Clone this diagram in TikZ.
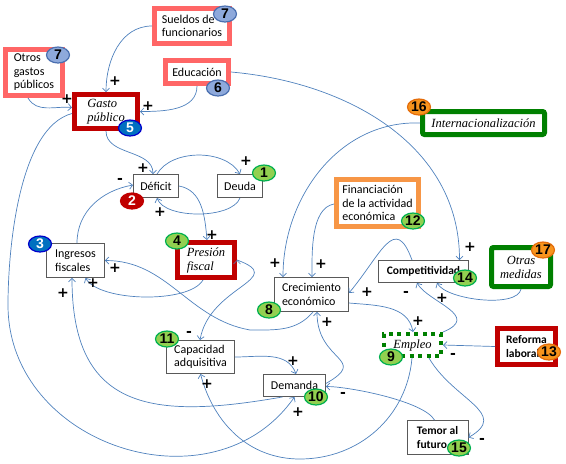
\documentclass[tikz,border=0pt]{standalone}
\usepackage{fontspec}
\setmainfont{Carlito}
\newfontfamily\itserif{Liberation Serif}
\newfontfamily\badgefont{Liberation Sans}
\newfontfamily\signfont{DejaVu Sans}
\usetikzlibrary{arrows.meta,shapes.geometric}

\definecolor{salmon}{HTML}{FF6666}
\definecolor{darkred}{HTML}{C00000}
\definecolor{framegreen}{HTML}{008000}
\definecolor{frameorange}{HTML}{F79646}
\definecolor{linkblue}{HTML}{4F81BD}
\definecolor{bgreen}{HTML}{92D050}
\definecolor{bgreenrim}{HTML}{00B050}
\definecolor{borange}{HTML}{F7941D}
\definecolor{borangerim}{HTML}{E46C0A}
\definecolor{bblue}{HTML}{0070C0}
\definecolor{bbluerim}{HTML}{0000CC}
\definecolor{bsteel}{HTML}{8EA9DB}
\definecolor{bsteelrim}{HTML}{4A6FB0}

\begin{document}
\begin{tikzpicture}[x=1pt,y=-1pt,
    box/.style={draw=black!65,line width=0.9pt,fill=white,align=left,inner sep=1pt,
                font=\fontsize{12}{13.5}\selectfont},
    boxframe/.style={box,line width=5pt,draw=#1},
    itbox/.style={font=\itserif\itshape\fontsize{12.5}{14}\selectfont},
    bfbox/.style={font=\bfseries\fontsize{11.5}{13.5}\selectfont},
    dotbox/.style={box,draw=framegreen,line width=4pt,dash pattern=on 4pt off 4.5pt},
    badge/.style={ellipse,line width=1.2pt,minimum width=23pt,minimum height=16pt,inner sep=0pt,
                  font=\badgefont\bfseries\fontsize{14}{14}\selectfont},
    green badge/.style={badge,draw=bgreenrim,fill=bgreen},
    orange badge/.style={badge,draw=borangerim,fill=borange},
    blue badge/.style={badge,draw=bbluerim,fill=bblue,text=white},
    red badge/.style={badge,draw=darkred,fill=darkred,text=white},
    steel badge/.style={badge,draw=bsteelrim,fill=bsteel},
    sign/.style={font=\signfont\bfseries\fontsize{14}{14}\selectfont,inner sep=0pt},
    link/.style={draw=linkblue,line width=0.7pt,-{Straight Barb[length=3.5pt,width=7pt]}}
  ]
  \useasboundingbox (0,0) rectangle (566,464);

  % boxes
  \node[boxframe=salmon,minimum width=75,minimum height=35] (sueldos) at (192,26) {Sueldos de\\funcionarios};
  \node[boxframe=salmon,minimum width=57,minimum height=46] (otros) at (34,72.5) {Otros\\gastos\\públicos};
  \node[boxframe=salmon,minimum width=63,minimum height=23] (educacion) at (197,72) {Educación};
  \node[boxframe=darkred,itbox,minimum width=63,minimum height=34] (gasto) at (106,111.5) {Gasto\\público};
  \node[box,minimum width=45,minimum height=23] (deficit) at (156,186) {Déficit};
  \node[box,minimum width=45,minimum height=23] (deuda) at (240,186) {Deuda};
  \node[box,minimum width=58,minimum height=34] (ingresos) at (75.5,260.5) {Ingresos\\fiscales};
  \node[boxframe=darkred,itbox,minimum width=57,minimum height=35] (presion) at (206,260) {Presión\\fiscal};
  \node[boxframe=framegreen,itbox,rounded corners=2pt,minimum width=122,minimum height=23] (intern) at (483.5,123) {Internacionalización};
  \node[boxframe=frameorange,minimum width=82,minimum height=47] (financ) at (377.5,203) {Financiación\\de la actividad\\económica};
  \node[box,minimum width=74,minimum height=34] (crec) at (311.5,294.5) {Crecimiento\\económico};
  \node[box,bfbox,minimum width=90,minimum height=22] (comp) at (423.5,271.5) {Competitividad};
  \node[boxframe=framegreen,itbox,align=center,rounded corners=2pt,minimum width=59,minimum height=39] (otras) at (521,267) {Otras\\medidas};
  \node[dotbox,itbox,minimum width=57,minimum height=22] (empleo) at (412.5,345) {Empleo};
  \node[boxframe=darkred,bfbox,minimum width=58,minimum height=36] (reforma) at (526.5,346.5) {Reforma\\laboral};
  \node[box,minimum width=68,minimum height=33] (capac) at (200.5,357) {Capacidad\\adquisitiva};
  \node[box,minimum width=62,minimum height=22] (demanda) at (294.5,385.5) {Demanda};
  \node[box,bfbox,minimum width=61,minimum height=34] (temor) at (437.5,437.5) {Temor al\\futuro};

  % links
  \path[link]
   (sueldos.west) edge[out=180,in=90] (gasto.north)
   ([xshift=-6pt]otros.south) edge[out=-60,in=175] ([yshift=4pt]gasto.west)
   (educacion.south) edge[out=-90,in=0] (gasto.east)
   (educacion.east) edge[out=-5,in=90] ([xshift=36pt]comp.north)
   (gasto.south) edge[out=-90,in=90] ([xshift=-3pt]deficit.north)
   ([xshift=1pt]deficit.north) edge[out=60,in=120,looseness=0.9] (deuda.north)
   (deuda.south) edge[out=-110,in=-70,looseness=0.7] ([xshift=1pt]deficit.south)
   (deficit.east) edge[out=-10,in=95] ([xshift=1pt]presion.north)
   ([xshift=1.5pt]ingresos.north) edge[out=90,in=190] ([yshift=1pt]deficit.west)
   ([xshift=-3pt]presion.south) edge[out=-120,in=-60,looseness=0.6] ([xshift=10pt]ingresos.south)
   ([xshift=-12pt]demanda.south) edge[out=190,in=-90,looseness=1.4] ([xshift=-3.5pt]ingresos.south)
   (capac.east) edge[out=0,in=110] ([xshift=1.5pt]demanda.north)
   ([yshift=2pt]demanda.east) edge[out=30,in=-90,looseness=1.8] ([xshift=5.5pt]crec.south)
   ([xshift=-3pt]temor.north) edge[out=120,in=0,looseness=0.5] ([yshift=-1pt]demanda.east)
   ([xshift=16.5pt]empleo.south) edge[out=-60,in=30,looseness=1.4] (temor.east)
   (reforma.west) edge (empleo.east)
   ([yshift=-8.5pt]crec.east) edge[out=-5,in=100] ([xshift=0.5pt]empleo.north)
   (otras.south) edge[out=-100,in=-60,looseness=0.6] ([xshift=13.5pt]comp.south)
   ([xshift=-11.5pt]comp.north) edge[out=110,in=50,looseness=1.8] ([yshift=1.5pt]crec.east)
   ([yshift=-1pt]financ.west) edge[out=190,in=90,looseness=0.8] ([xshift=0.5pt]crec.north)
   (intern.west) edge[out=178,in=90] ([xshift=-28.5pt]crec.north)
   (presion.east) edge[out=-20,in=80,looseness=1.6] ([xshift=-0.5pt]capac.north);
  \draw[link] ([xshift=1.5pt]crec.south) to[out=-130,in=0] (250,330) to[out=170,in=0] (ingresos.east);
  \draw[link] ([yshift=-2pt]gasto.west) to[out=195,in=90,looseness=0.7] (8,305)
              to[out=-90,in=-125,looseness=1.2] (demanda.south);
  \draw[link] ([xshift=-0.5pt]empleo.south) to[out=-95,in=0] (300,459) to[out=180,in=-75] (capac.south);
  \draw[link] (empleo.north east) .. controls (482,316) and (428,302) .. ([xshift=-6.5pt]comp.south);

  % signs
  \node[sign] (s1) at (115,81) {+};
  \node[sign] (s2) at (67,99) {+};
  \node[sign] (s3) at (148,106) {+};
  \node[sign] (s4) at (143,168) {+};
  \node[sign] (s5) at (246,161) {+};
  \node[sign] (s6) at (160,212) {+};
  \node[sign] (s7) at (120,181) {-};
  \node[sign] (s8) at (212,235) {+};
  \node[sign] (s9) at (115,268) {+};
  \node[sign] (s10) at (93,283) {+};
  \node[sign] (s11) at (63,293) {+};
  \node[sign] (s12) at (189,334) {-};
  \node[sign] (s13) at (275,263) {+};
  \node[sign] (s14) at (321,264) {+};
  \node[sign] (s15) at (367,292) {+};
  \node[sign] (s16) at (327,322) {+};
  \node[sign] (s17) at (470,247) {+};
  \node[sign] (s18) at (406,294) {-};
  \node[sign] (s19) at (442,298) {+};
  \node[sign] (s20) at (418,321) {+};
  \node[sign] (s21) at (453,356) {-};
  \node[sign] (s22) at (293,361) {+};
  \node[sign] (s23) at (207,384) {+};
  \node[sign] (s24) at (298,412) {+};
  \node[sign] (s25) at (343,395) {-};
  \node[sign] (s26) at (482,441) {-};

  % badges
  \node[green badge] (n1) at (264,173) {1};
  \node[red badge] (n2) at (132,201) {2};
  \node[blue badge] (n3) at (40,244) {3};
  \node[green badge] (n4) at (177,241) {4};
  \node[blue badge] (n5) at (130,128) {5};
  \node[steel badge] (n6) at (218,88) {6};
  \node[steel badge] (n7a) at (225,14) {7};
  \node[steel badge] (n7b) at (58,55) {7};
  \node[green badge] (n8) at (269,310) {8};
  \node[green badge] (n9) at (391,357) {9};
  \node[green badge] (n10) at (316,397) {10};
  \node[green badge] (n11) at (167,339) {11};
  \node[green badge] (n12) at (413,221) {12};
  \node[orange badge] (n13) at (549,352) {13};
  \node[green badge] (n14) at (465,278) {14};
  \node[green badge] (n15) at (459,448) {15};
  \node[orange badge] (n16) at (419,107) {16};
  \node[orange badge] (n17) at (543,250) {17};
\end{tikzpicture}
\end{document}
